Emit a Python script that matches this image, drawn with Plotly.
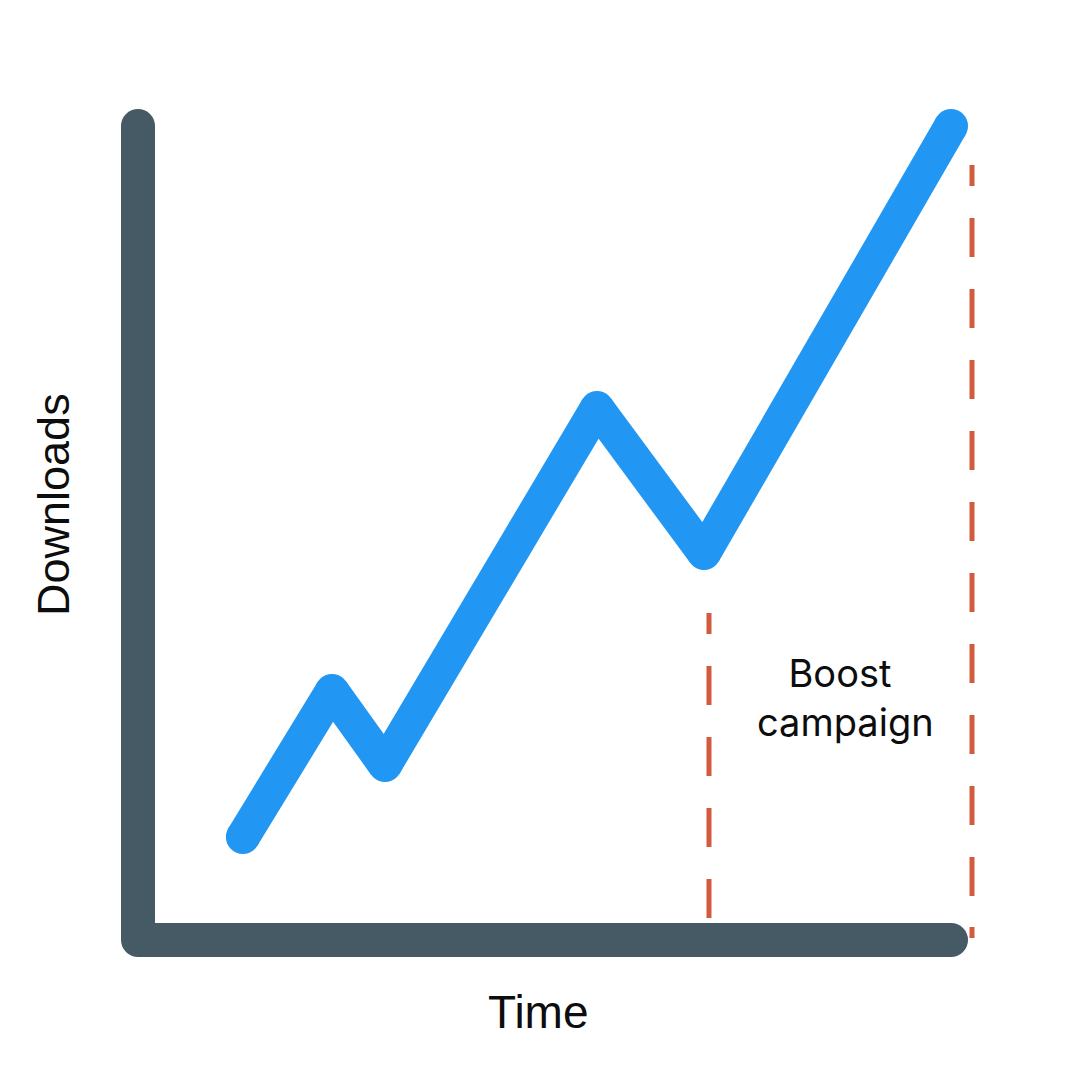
import plotly.graph_objects as go

# ---- data ----
time_points = [1.29, 2.386, 3.038, 5.646, 6.962, 10.0]
downloads = [12.65, 30.59, 21.50, 65.36, 47.54, 100.0]

axis_x_max = 10.0
axis_y_max = 100.0

campaign_start = 7.023
campaign_end = 10.258
campaign_start_span = [2.70, 40.17]   # bottom -> top
campaign_end_span = [0.25, 95.2]

campaign_label = "Boost\u00a0<br>campaign"
x_title = "Time"
y_title = "Downloads"

# ---- styles ----
AXIS_COLOR = "#455A64"
LINE_COLOR = "#2196F3"
DASH_COLOR = "#D35B3D"
TEXT_COLOR = "#0d0d0d"

# page has an 8px body margin; the figure is sized to fit inside it
FIG_W = FIG_H = 1064
OFF = 8


def segments(xs, ys):
    sx, sy = [], []
    for i in range(len(xs) - 1):
        sx += [xs[i], xs[i + 1], None]
        sy += [ys[i], ys[i + 1], None]
    return sx, sy


def px(p):
    return (p - OFF) / FIG_W


def py(p):
    return 1 - (p - OFF) / FIG_H


fig = go.Figure()

# axis frame (drawn as thick rounded strokes)
ax_x = [0, 0, axis_x_max]
ax_y = [axis_y_max, 0, 0]
sx, sy = segments(ax_x, ax_y)
fig.add_trace(go.Scatter(x=sx, y=sy, mode="lines", line=dict(color=AXIS_COLOR, width=34),
                         hoverinfo="skip", showlegend=False))
fig.add_trace(go.Scatter(x=ax_x, y=ax_y, mode="markers",
                         marker=dict(color=AXIS_COLOR, size=34, line=dict(width=0)),
                         hoverinfo="skip", showlegend=False))

# campaign dashed markers
fig.add_trace(go.Scatter(x=[campaign_start, campaign_start], y=campaign_start_span, mode="lines",
                         line=dict(color=DASH_COLOR, width=5, dash="39px,32px"),
                         hoverinfo="skip", showlegend=False))
right_dash = "11px,31px," + ",".join(["39px,32px"] * 11)
fig.add_trace(go.Scatter(x=[campaign_end, campaign_end], y=campaign_end_span, mode="lines",
                         line=dict(color=DASH_COLOR, width=5, dash=right_dash),
                         hoverinfo="skip", showlegend=False))

# downloads line
sx, sy = segments(time_points, downloads)
fig.add_trace(go.Scatter(x=sx, y=sy, mode="lines", line=dict(color=LINE_COLOR, width=34),
                         connectgaps=False, showlegend=False))
fig.add_trace(go.Scatter(x=time_points, y=downloads, mode="markers",
                         marker=dict(color=LINE_COLOR, size=34, line=dict(width=0)),
                         showlegend=False))

fig.add_annotation(x=(campaign_start + campaign_end) / 2 + 0.06, y=29.8, xref="x", yref="y",
                   text=campaign_label, showarrow=False,
                   font=dict(family="Inter", size=38, color=TEXT_COLOR),
                   xanchor="center", yanchor="middle")
fig.add_annotation(x=px(538), y=py(1012), xref="paper", yref="paper", text=x_title, showarrow=False,
                   font=dict(family="Liberation Sans", size=46, color=TEXT_COLOR),
                   xanchor="center", yanchor="middle")
fig.add_annotation(x=px(54), y=py(505), xref="paper", yref="paper", text=y_title, showarrow=False,
                   textangle=-90,
                   font=dict(family="Liberation Sans", size=45, color=TEXT_COLOR),
                   xanchor="center", yanchor="middle")

# axis ranges chosen so that t=0 sits at page x=138 (81.3 px/unit) and d=0 at page y=940 (8.14 px/unit)
fig.update_layout(
    width=FIG_W, height=FIG_H,
    margin=dict(l=0, r=0, t=0, b=0),
    paper_bgcolor="white", plot_bgcolor="white",
    xaxis=dict(range=[-1.599, 11.488], visible=False, fixedrange=True),
    yaxis=dict(range=[-16.22, 114.50], visible=False, fixedrange=True),
)

fig.write_html("out.html")
